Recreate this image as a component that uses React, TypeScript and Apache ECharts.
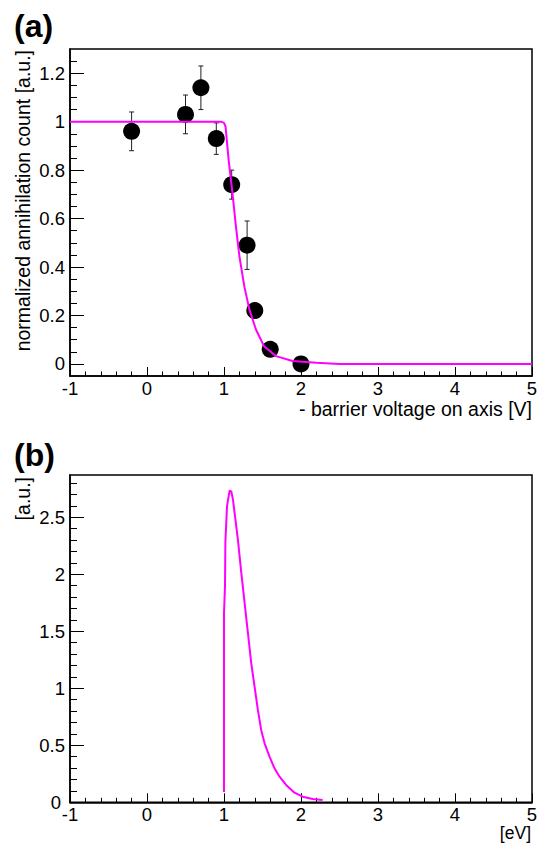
import React, { useEffect, useRef } from "react";
import * as echarts from "echarts";

// ---- (a) measured annihilation counts ----
const voltages = [-0.2, 0.5, 0.7, 0.9, 1.1, 1.3, 1.4, 1.6, 2.0];
const counts = [0.96, 1.03, 1.14, 0.93, 0.74, 0.49, 0.22, 0.06, 0.0];
const countErrors = [0.08, 0.08, 0.09, 0.065, 0.06, 0.1, 0.03, 0.02, 0.01];

// ---- (a) fitted curve ----
const fitX = [-1, 0.96, 1.0, 1.02, 1.06, 1.11, 1.155, 1.2, 1.264, 1.33, 1.415, 1.52, 1.675, 1.89, 2.2, 2.5, 5];
const fitY = [1, 1, 0.995, 0.98, 0.842, 0.705, 0.568, 0.444, 0.32, 0.224, 0.142, 0.073, 0.032, 0.012, 0.005, 0.0, 0.0];

// ---- (b) energy distribution ----
const energyX = [1.0, 1.0, 1.013, 1.018, 1.039, 1.052, 1.074, 1.095, 1.117, 1.138, 1.181, 1.225, 1.268, 1.311, 1.354, 1.397, 1.44, 1.483, 1.527, 1.591, 1.656, 1.721, 1.807, 1.915, 2.022, 2.152, 2.281];
const energyY = [0.09, 1.658, 1.9, 2.286, 2.593, 2.652, 2.734, 2.725, 2.652, 2.535, 2.301, 2.009, 1.746, 1.483, 1.219, 1.014, 0.81, 0.634, 0.517, 0.4, 0.298, 0.225, 0.152, 0.084, 0.049, 0.029, 0.02];

// ---- axis ticks ----
const xTicks = [-1, 0, 1, 2, 3, 4, 5];
const yTicksA = [0, 0.2, 0.4, 0.6, 0.8, 1, 1.2];
const yTicksB = [0, 0.5, 1, 1.5, 2, 2.5];

const FONT = "'Liberation Sans', Arial, Helvetica, sans-serif";
const MAGENTA = "#ff00ff";
const TICK_FONT = 18.5;
const TITLE_FONT = 19.5;

function minorValues(min: number, max: number, step: number, majors: number[]) {
  const out: number[] = [];
  const n = Math.round((max - min) / step);
  for (let i = 0; i <= n; i++) {
    const v = Math.round((min + i * step) * 1000) / 1000;
    if (!majors.some((m) => Math.abs(m - v) < 1e-6)) out.push(v);
  }
  return out;
}

function xAxisDef(gridIndex: number) {
  return {
    type: "value",
    gridIndex,
    min: xTicks[0],
    max: xTicks[xTicks.length - 1],
    interval: 1,
    axisLine: { show: true, onZero: false, lineStyle: { color: "#000", width: 1.5 } },
    axisTick: { show: true, inside: true, length: 9, lineStyle: { color: "#000", width: 1 } },
    minorTick: { show: true, splitNumber: 5, length: 4.5, lineStyle: { color: "#000", width: 1 } },
    axisLabel: { show: true, color: "#000", fontSize: TICK_FONT, lineHeight: 12, fontFamily: FONT, margin: 6 },
    splitLine: { show: false },
    minorSplitLine: { show: false },
  };
}

function yMajor(gridIndex: number, min: number, max: number, ticks: number[], labels: number[]) {
  return {
    type: "value",
    gridIndex,
    min,
    max,
    position: "left",
    axisLine: { show: true, onZero: false, lineStyle: { color: "#000", width: 1.5 } },
    axisTick: { show: true, inside: true, length: 14, customValues: ticks, lineStyle: { color: "#000", width: 1 } },
    axisLabel: { show: true, customValues: labels, color: "#000", fontSize: TICK_FONT, lineHeight: 12, fontFamily: FONT, margin: 5 },
    splitLine: { show: false },
  };
}

function yMinor(gridIndex: number, min: number, max: number, minors: number[]) {
  return {
    type: "value",
    gridIndex,
    min,
    max,
    position: "left",
    offset: 0,
    axisLine: { show: false, onZero: false },
    axisTick: { show: true, inside: true, length: 7, customValues: minors, lineStyle: { color: "#000", width: 1 } },
    axisLabel: { show: false },
    splitLine: { show: false },
  };
}

function yLabelOnly(gridIndex: number, min: number, max: number, labels: number[], margin: number) {
  return {
    type: "value",
    gridIndex,
    min,
    max,
    position: "left",
    offset: 0,
    axisLine: { show: false, onZero: false },
    axisTick: { show: false },
    axisLabel: { show: true, customValues: labels, color: "#000", fontSize: TICK_FONT, lineHeight: 12, fontFamily: FONT, margin },
    splitLine: { show: false },
  };
}

export default function App() {
  const ref = useRef<HTMLDivElement>(null);
  useEffect(() => {
    if (!ref.current) return;
    const chart = echarts.init(ref.current, undefined, { renderer: "svg" });
    const minorA = minorValues(-0.05, 1.3, 0.05, yTicksA).filter((v) => v > -0.05 && v < 1.3);
    const minorB = minorValues(0, 2.8, 0.1, yTicksB);
    const option: any = {
      animation: false,
      textStyle: { fontFamily: FONT },
      grid: [
        { left: 70, right: 9, top: 49, height: 327, show: true, borderColor: "#000", borderWidth: 1.5, backgroundColor: "transparent", containLabel: false, outerBoundsMode: "none" },
        { left: 70, right: 9, top: 475, height: 327.3, show: true, borderColor: "#000", borderWidth: 1.5, backgroundColor: "transparent", containLabel: false, outerBoundsMode: "none" },
      ],
      xAxis: [xAxisDef(0), xAxisDef(1)],
      yAxis: [
        yMajor(0, -0.05, 1.3, yTicksA, yTicksA),
        yMinor(0, -0.05, 1.3, minorA),
        yMajor(1, 0, 2.87, yTicksB, yTicksB.slice(1)),
        yMinor(1, 0, 2.87, minorB),
        yLabelOnly(1, 0, 2.87, yTicksB.slice(0, 1), 9),
      ],
      series: [
        {
          type: "custom",
          xAxisIndex: 0,
          yAxisIndex: 0,
          silent: true,
          z: 1,
          encode: { x: 0, y: 1 },
          data: voltages.map((v, i) => [v, counts[i], countErrors[i]]),
          renderItem: (params: any, api: any) => {
            const x = api.value(0);
            const y = api.value(1);
            const e = api.value(2);
            const top = api.coord([x, y + e]);
            const bot = api.coord([x, y - e]);
            const cw = 2.5;
            const st = { stroke: "#222", lineWidth: 1 };
            return {
              type: "group",
              children: [
                { type: "line", shape: { x1: top[0], y1: top[1], x2: bot[0], y2: bot[1] }, style: st },
                { type: "line", shape: { x1: top[0] - cw, y1: top[1], x2: top[0] + cw, y2: top[1] }, style: st },
                { type: "line", shape: { x1: bot[0] - cw, y1: bot[1], x2: bot[0] + cw, y2: bot[1] }, style: st },
              ],
            };
          },
        },
        {
          type: "scatter",
          xAxisIndex: 0,
          yAxisIndex: 0,
          silent: true,
          z: 2,
          symbol: "circle",
          symbolSize: 17,
          itemStyle: { color: "#000", opacity: 1 },
          data: voltages.map((v, i) => [v, counts[i]]),
        },
        {
          type: "line",
          xAxisIndex: 0,
          yAxisIndex: 0,
          silent: true,
          z: 3,
          showSymbol: false,
          symbol: "none",
          lineStyle: { color: MAGENTA, width: 2 },
          data: fitX.map((v, i) => [v, fitY[i]]),
        },
        {
          type: "line",
          xAxisIndex: 1,
          yAxisIndex: 2,
          silent: true,
          z: 3,
          showSymbol: false,
          symbol: "none",
          lineStyle: { color: MAGENTA, width: 2 },
          data: energyX.map((v, i) => [v, energyY[i]]),
        },
      ],
      graphic: [
        { type: "text", left: 14, top: 10, style: { text: "(a)", fontSize: 32, fontWeight: "bold", fontFamily: FONT, fill: "#000" } },
        { type: "text", left: 14, top: 439, style: { text: "(b)", fontSize: 32, fontWeight: "bold", fontFamily: FONT, fill: "#000" } },
        { type: "text", x: 532, y: 408.5, style: { text: "- barrier voltage on axis [V]", fontSize: TITLE_FONT, fontFamily: FONT, fill: "#000", align: "right", verticalAlign: "middle" } },
        { type: "text", x: 531, y: 833, style: { text: "[eV]", fontSize: 17.5, fontFamily: FONT, fill: "#000", align: "right", verticalAlign: "middle" } },
        { type: "text", x: 23, y: 50, rotation: Math.PI / 2, style: { text: "normalized annihilation count [a.u.]", fontSize: TITLE_FONT, fontFamily: FONT, fill: "#000", align: "right", verticalAlign: "middle" } },
        { type: "text", x: 23, y: 477, rotation: Math.PI / 2, style: { text: "[a.u.]", fontSize: TITLE_FONT, fontFamily: FONT, fill: "#000", align: "right", verticalAlign: "middle" } },
      ],
    };
    chart.setOption(option);
    return () => chart.dispose();
  }, []);
  return (
    <div
      ref={ref}
      style={{ position: "fixed", left: 0, top: 0, width: 541, height: 843, background: "#fff" }}
    />
  );
}
